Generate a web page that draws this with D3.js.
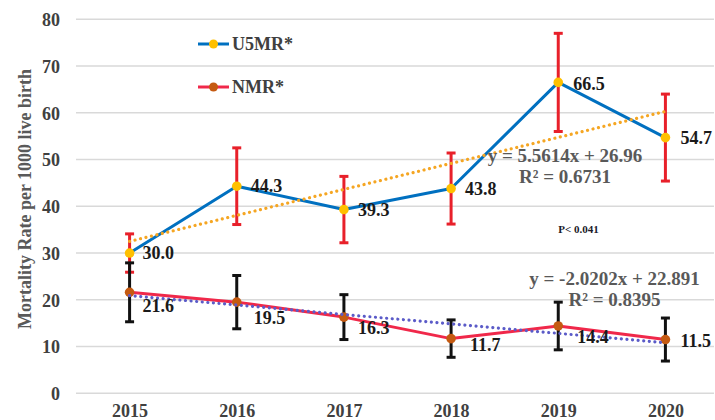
<!DOCTYPE html>
<html><head><meta charset="utf-8">
<script src="https://cdn.jsdelivr.net/npm/d3@7"></script>
<style>
html,body{margin:0;padding:0;background:#fff;}
svg{display:block;}
text{font-family:"Liberation Serif","Times New Roman",serif;font-weight:bold;}
</style></head>
<body>
<svg id="chart" width="715" height="420"></svg>
<script>
// ---- data ----
const years = ["2015","2016","2017","2018","2019","2020"];
const u5mr = [30.0, 44.3, 39.3, 43.8, 66.5, 54.7];
const u5mrErr = [4.1, 8.2, 7.1, 7.6, 10.5, 9.3];
const nmr = [21.6, 19.5, 16.3, 11.7, 14.4, 11.5];
const nmrErr = [6.3, 5.7, 4.8, 4.0, 5.1, 4.6];
const u5mrTrendEnds = [32.5, 60.3];
const nmrTrendEnds = [20.9, 10.8];
const yTicks = [0, 10, 20, 30, 40, 50, 60, 70, 80];
const yTitle = "Mortality Rate per 1000 live birth";
const seriesNames = ["U5MR*", "NMR*"];
const u5mrEq = ["y = 5.5614x + 26.96", "R² = 0.6731"];
const nmrEq = ["y = -2.0202x + 22.891", "R² = 0.8395"];
const pText = "P< 0.041";

// ---- layout (label offsets, not data) ----
const u5LabelDy = [0, 0, 0, 0, 1.5, 0.5];
const u5LabelDx = [13, 14, 14, 14, 15, 15];
const nmrLabelDy = [13, 16, 11, 6.5, 10.7, 1.2];
const nmrLabelDx = [13, 17, 14, 19, 19, 15];

const svg = d3.select("#chart");
const pLeft = 76, pRight = 719, gridRight = 714, pTop = 19.3, pBottom = 393.3;

const x = d3.scalePoint().domain(years).range([pLeft, pRight]).padding(0.5);
const y = d3.scaleLinear().domain([0, 80]).range([pBottom, pTop]);

// gridlines
svg.append("g").selectAll("line").data(yTicks).join("line")
  .attr("x1", pLeft).attr("x2", gridRight)
  .attr("y1", d => y(d)).attr("y2", d => y(d))
  .attr("stroke", "#d9d9d9").attr("stroke-width", 1.5);

// y axis labels
const yAxis = d3.axisLeft(y).tickValues(yTicks).tickSize(0).tickPadding(0).tickFormat(d3.format("d"));
const ya = svg.append("g").attr("transform", `translate(60,0)`).call(yAxis);
ya.select(".domain").remove();
ya.selectAll("text").attr("font-size", 18).attr("fill", "#404040")
  .attr("font-family", "Liberation Serif").attr("font-weight", "bold").attr("dy", "0.35em");

// x axis labels
const xAxis = d3.axisBottom(x).tickSize(0).tickPadding(0);
const xa = svg.append("g").attr("transform", `translate(0,404)`).call(xAxis);
xa.select(".domain").remove();
xa.selectAll("text").attr("font-size", 18).attr("fill", "#404040")
  .attr("font-family", "Liberation Serif").attr("font-weight", "bold").attr("dy", "0.71em");

// y title
svg.append("text").attr("transform", `translate(31,199) rotate(-90)`)
  .attr("text-anchor", "middle").attr("font-size", 18).attr("fill", "#595959")
  .text(yTitle);

const line = d3.line().x((d, i) => x(years[i])).y(d => y(d));

// series lines
svg.append("path").datum(u5mr).attr("d", line).attr("fill", "none")
  .attr("stroke", "#0070c0").attr("stroke-width", 3).attr("stroke-linejoin", "round");
svg.append("path").datum(nmr).attr("d", line).attr("fill", "none")
  .attr("stroke", "#f0284a").attr("stroke-width", 3).attr("stroke-linejoin", "round");

// error bars
function errBars(vals, errs, color) {
  const g = svg.append("g").attr("stroke", color).attr("stroke-width", 3);
  vals.forEach((v, i) => {
    const cx = x(years[i]);
    g.append("line").attr("x1", cx).attr("x2", cx).attr("y1", y(v + errs[i])).attr("y2", y(v - errs[i]));
    g.append("line").attr("x1", cx - 4.5).attr("x2", cx + 4.5).attr("y1", y(v + errs[i])).attr("y2", y(v + errs[i]));
    g.append("line").attr("x1", cx - 4.5).attr("x2", cx + 4.5).attr("y1", y(v - errs[i])).attr("y2", y(v - errs[i]));
  });
}
errBars(u5mr, u5mrErr, "#e8202a");
errBars(nmr, nmrErr, "#111111");

// markers
svg.append("g").selectAll("circle").data(u5mr).join("circle")
  .attr("cx", (d, i) => x(years[i])).attr("cy", d => y(d)).attr("r", 4.8).attr("fill", "#ffc000");
svg.append("g").selectAll("circle").data(nmr).join("circle")
  .attr("cx", (d, i) => x(years[i])).attr("cy", d => y(d)).attr("r", 4.8).attr("fill", "#c55a11");

// trendlines
const ends = [years[0], years[years.length - 1]];
function trend(vals, color) {
  svg.append("line").attr("x1", x(ends[0])).attr("x2", x(ends[1]))
    .attr("y1", y(vals[0])).attr("y2", y(vals[1]))
    .attr("stroke", color).attr("stroke-width", 3.2)
    .attr("stroke-linecap", "round").attr("stroke-dasharray", "0.01 5.6");
}
trend(u5mrTrendEnds, "#f5a623");
trend(nmrTrendEnds, "#5b5bc8");

// data labels
svg.append("g").selectAll("text").data(u5mr).join("text")
  .attr("x", (d, i) => x(years[i]) + u5LabelDx[i]).attr("y", (d, i) => y(d) + u5LabelDy[i])
  .attr("dy", "0.35em").attr("font-size", 18).attr("fill", "#1a1a1a")
  .text(d => d.toFixed(1));
svg.append("g").selectAll("text").data(nmr).join("text")
  .attr("x", (d, i) => x(years[i]) + nmrLabelDx[i]).attr("y", (d, i) => y(d) + nmrLabelDy[i])
  .attr("dy", "0.35em").attr("font-size", 18).attr("fill", "#1a1a1a")
  .text(d => d.toFixed(1));

// equations
function eq(lines, cx, cys) {
  lines.forEach((t, i) => {
    svg.append("text").attr("x", cx).attr("y", cys[i]).attr("dy", "0.35em")
      .attr("text-anchor", "middle").attr("font-size", 19).attr("fill", "#595959").text(t);
  });
}
eq(u5mrEq, 565, [155, 176]);
eq(nmrEq, 614.5, [278, 299]);
svg.append("text").attr("x", 578.5).attr("y", 229).attr("dy", "0.35em")
  .attr("text-anchor", "middle").attr("font-size", 11).attr("fill", "#1a1a2a").text(pText);

// legend
const legColors = [["#0070c0", "#ffc000"], ["#f0284a", "#c55a11"]];
const legY = [44, 87];
seriesNames.forEach((n, i) => {
  const g = svg.append("g");
  g.append("line").attr("x1", 198).attr("x2", 229).attr("y1", legY[i]).attr("y2", legY[i])
    .attr("stroke", legColors[i][0]).attr("stroke-width", 3);
  g.append("circle").attr("cx", 213.5).attr("cy", legY[i]).attr("r", 4.5).attr("fill", legColors[i][1]);
  g.append("text").attr("x", 232).attr("y", legY[i]).attr("dy", "0.35em")
    .attr("font-size", 18).attr("fill", "#404040").text(n);
});
</script>
</body></html>
